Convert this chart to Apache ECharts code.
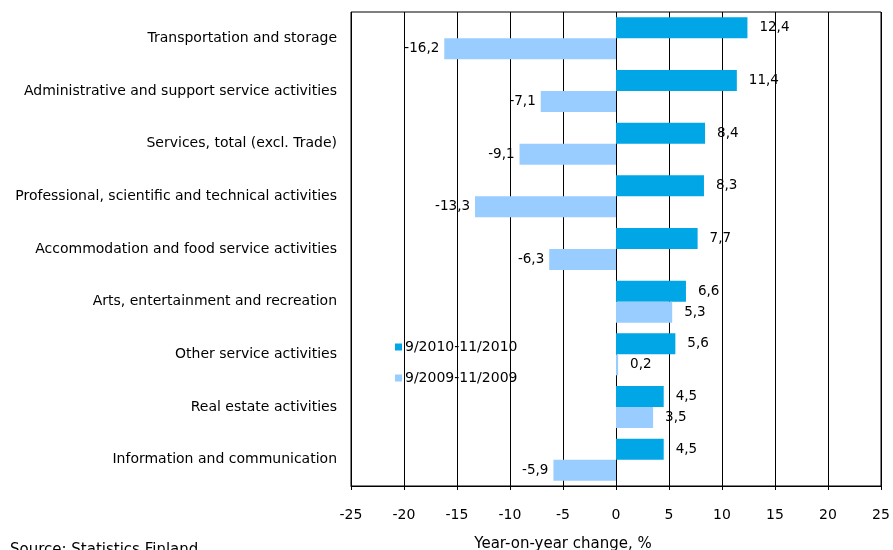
<!DOCTYPE html>
<html>
<head>
<meta charset="utf-8">
<script src="https://cdn.jsdelivr.net/npm/echarts@6/dist/echarts.min.js"></script>
<style>
  html, body { margin: 0; padding: 0; background: #fff; }
  #chart { width: 893px; height: 550px; }
</style>
</head>
<body>
<div id="chart"></div>
<script>
const categories = [
  'Transportation and storage',
  'Administrative and support service activities',
  'Services, total (excl. Trade)',
  'Professional, scientific and technical activities',
  'Accommodation and food service activities',
  'Arts, entertainment and recreation',
  'Other service activities',
  'Real estate activities',
  'Information and communication'
];
const values2010 = [12.4, 11.4, 8.4, 8.3, 7.7, 6.6, 5.6, 4.5, 4.5];
const values2009 = [-16.2, -7.1, -9.1, -13.3, -6.3, 5.3, 0.2, 3.5, -5.9];
const seriesNames = ['9/2010-11/2010', '9/2009-11/2009'];

const font = 'DejaVu Sans';
const fmt = p => p.value.toFixed(1).replace('.', ',');

const chart = echarts.init(document.getElementById('chart'));

const makeSeries = (name, data, color) => ({
  name: name,
  type: 'bar',
  data: data.map(v => ({
    value: v,
    label: { position: v < 0 ? 'left' : 'right', distance: v < 0 ? 5 : 12 }
  })),
  barWidth: 21,
  barGap: '0%',
  itemStyle: { color: color },
  label: {
    show: true,
    formatter: fmt,
    color: '#000',
    fontFamily: font,
    fontSize: 13.5
  },
  animation: false
});

const option = {
  backgroundColor: '#fff',
  title: {
    text: 'Source: Statistics Finland',
    left: 5,
    top: 538,
    textStyle: { fontFamily: font, fontSize: 15, fontWeight: 'normal', color: '#000' }
  },
  legend: {
    data: seriesNames,
    orient: 'vertical',
    left: 390,
    top: 335,
    itemWidth: 7,
    itemHeight: 7,
    itemGap: 17,
    icon: 'rect',
    textStyle: { fontFamily: font, fontSize: 14, color: '#000', padding: [0, 0, 0, -2] }
  },
  grid: {
    left: 351,
    right: 12,
    top: 12,
    bottom: 64,
    containLabel: false,
    outerBoundsMode: 'none',
    show: true,
    borderColor: '#000',
    borderWidth: 1
  },
  xAxis: {
    type: 'value',
    min: -25,
    max: 25,
    interval: 5,
    name: 'Year-on-year change, %',
    nameLocation: 'middle',
    nameGap: 51,
    nameTextStyle: { fontFamily: font, fontSize: 15, color: '#000', padding: [0, 106, 0, 0] },
    axisLine: { show: true, lineStyle: { color: '#000' } },
    axisTick: { show: true, length: 4, lineStyle: { color: '#000' } },
    axisLabel: { color: '#000', fontFamily: font, fontSize: 14, margin: 22 },
    splitLine: { show: true, lineStyle: { color: '#000', width: 1 } }
  },
  yAxis: {
    type: 'category',
    data: categories,
    inverse: true,
    axisLine: { show: false },
    axisTick: { show: false },
    axisLabel: { color: '#000', fontFamily: font, fontSize: 14, margin: 14 }
  },
  series: [
    makeSeries(seriesNames[0], values2010, '#00a6e6'),
    makeSeries(seriesNames[1], values2009, '#99ccff')
  ]
};

chart.setOption(option);
</script>
</body>
</html>
